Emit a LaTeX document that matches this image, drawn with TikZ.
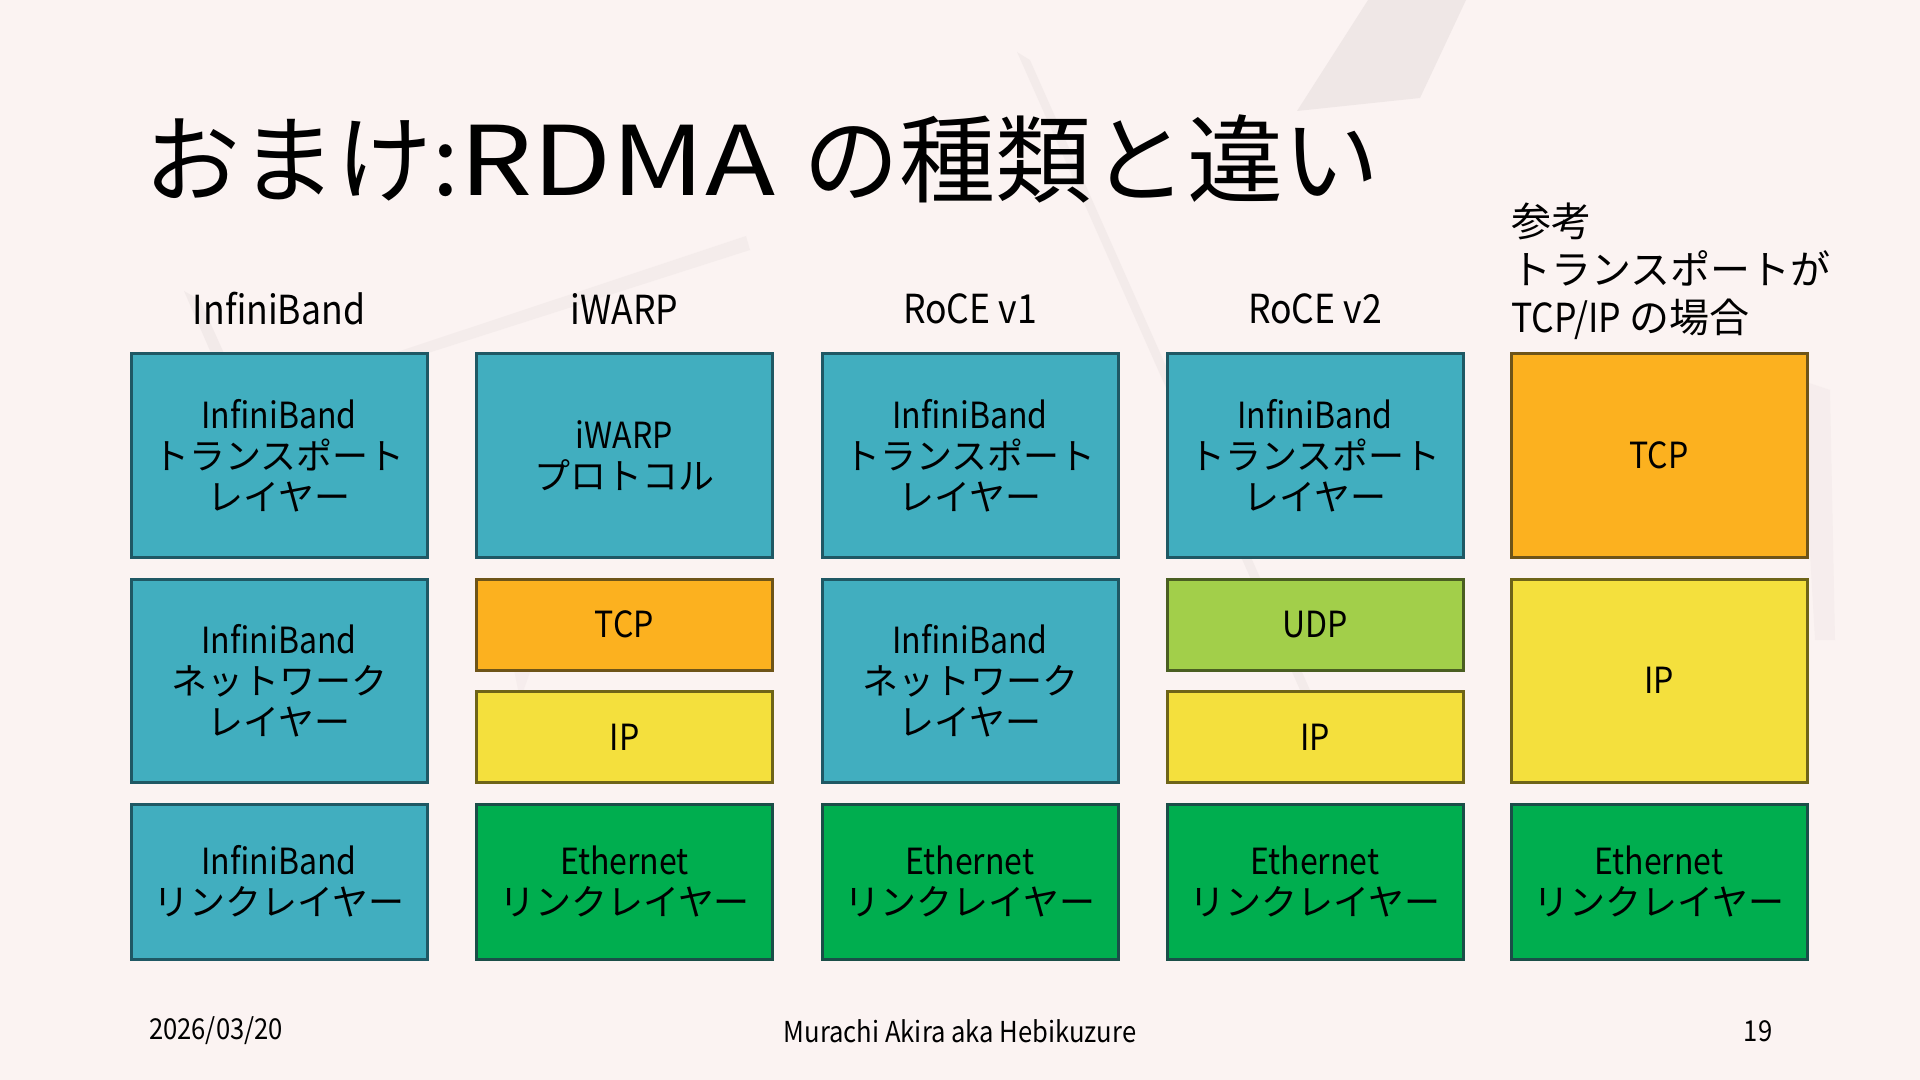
\documentclass[tikz,border=0pt]{standalone}
\usepackage{fontspec}
\setmainfont{Noto Sans CJK JP}
\newfontfamily\lat{Noto Sans CJK JP}[FakeStretch=0.89]
\newfontfamily\titlat{Noto Sans CJK JP}[FakeStretch=1.2]
\definecolor{bg}{HTML}{FBF3F2}
\definecolor{bgshape}{HTML}{EDE4E4}
\definecolor{tealF}{HTML}{41AEBF}
\definecolor{tealD}{HTML}{1F5864}
\definecolor{orF}{HTML}{FCB11F}
\definecolor{orD}{HTML}{6E5418}
\definecolor{yeF}{HTML}{F4E03D}
\definecolor{yeD}{HTML}{6E6418}
\definecolor{ugF}{HTML}{A2CF4A}
\definecolor{ugD}{HTML}{4A5E22}
\definecolor{grF}{HTML}{00AE4F}
\definecolor{grD}{HTML}{1A4E48}
\begin{document}
\begin{tikzpicture}[x=0.5pt,y=-0.5pt,
  layer/.style={draw, line width=1.5pt, minimum width=148pt, align=center,
    inner sep=0pt, text=black, font=\fontsize{18}{20.5}\selectfont},
  tealbox/.style={layer, fill=tealF, draw=tealD},
  orbox/.style={layer, fill=orF, draw=orD},
  yebox/.style={layer, fill=yeF, draw=yeD},
  ugbox/.style={layer, fill=ugF, draw=ugD},
  grbox/.style={layer, fill=grF, draw=grD},
  tall/.style={minimum height=101.5pt},
  half/.style={minimum height=45.5pt},
  low/.style={minimum height=77.5pt},
  head/.style={inner sep=0pt, text=black, font=\fontsize{20}{24}\selectfont},
  foot/.style={inner sep=0pt, text=black, font=\fontsize{14.4}{16}\selectfont\lat},
  faint/.style={fill=bgshape, draw=none}]
\fill[bg] (0,0) rectangle (1920,1080);
\useasboundingbox (0,0) rectangle (1920,1080);
% faint background shapes (faded photo)
\fill[faint, opacity=0.8] (1368,0) -- (1466,0) -- (1420,98) -- (1297,111) -- cycle;
\fill[faint, opacity=0.5] (1017,52) -- (1030,60) -- (1310,690) -- (1300,690) -- cycle;
\fill[faint, opacity=0.6] (184,291) -- (200,300) -- (290,500) -- (275,500) -- cycle;
\fill[faint, opacity=0.45] (373,360) -- (746,236) -- (750,250) -- (400,362) -- cycle;
\fill[faint, opacity=0.35] (1800,380) -- (1830,390) -- (1835,640) -- (1815,640) -- cycle;
\fill[faint, opacity=0.35] (500,600) -- (560,590) -- (520,700) -- cycle;

% title
\node[anchor=base west, inner sep=0pt, text=black, font=\fontsize{48}{56}\selectfont] (title) at (144,196) {おまけ:{\titlat RDMA}\hspace{14pt}の種類と違い};

% headers
\node[head] (h1) at (279,309) {\lat InfiniBand};
\node[head] (h2) at (624.5,309) {\lat iWARP};
\node[head] (h3) at (970,309) {\lat RoCE v1};
\node[head] (h4) at (1315,309) {\lat RoCE v2};
\node[head, anchor=north west, align=left] (h5) at (1511,203) {参考\\トランスポートが\\{\lat TCP/IP} の場合};

% column 1: InfiniBand
\node[tealbox, tall] (a1) at (279,455.5) {{\lat InfiniBand}\\トランスポート\\レイヤー};
\node[tealbox, tall] (a2) at (279,680.5) {{\lat InfiniBand}\\ネットワーク\\レイヤー};
\node[tealbox, low] (a3) at (279,881.5) {{\lat InfiniBand}\\リンクレイヤー};

% column 2: iWARP
\node[tealbox, tall] (b1) at (624.5,455.5) {{\lat iWARP}\\プロトコル};
\node[orbox, half] (b2) at (624.5,624.5) {\lat TCP};
\node[yebox, half] (b3) at (624.5,737) {\lat IP};
\node[grbox, low] (b4) at (624.5,881.5) {{\lat Ethernet}\\リンクレイヤー};

% column 3: RoCE v1
\node[tealbox, tall] (c1) at (970,455.5) {{\lat InfiniBand}\\トランスポート\\レイヤー};
\node[tealbox, tall] (c2) at (970,680.5) {{\lat InfiniBand}\\ネットワーク\\レイヤー};
\node[grbox, low] (c3) at (970,881.5) {{\lat Ethernet}\\リンクレイヤー};

% column 4: RoCE v2
\node[tealbox, tall] (d1) at (1315,455.5) {{\lat InfiniBand}\\トランスポート\\レイヤー};
\node[ugbox, half] (d2) at (1315,624.5) {\lat UDP};
\node[yebox, half] (d3) at (1315,737) {\lat IP};
\node[grbox, low] (d4) at (1315,881.5) {{\lat Ethernet}\\リンクレイヤー};

% column 5: TCP/IP
\node[orbox, tall] (e1) at (1659,455.5) {\lat TCP};
\node[yebox, tall] (e2) at (1659,680.5) {\lat IP};
\node[grbox, low] (e3) at (1659,881.5) {{\lat Ethernet}\\リンクレイヤー};

% footer
\node[foot] (date) at (216,1031) {2026/03/20};
\node[foot] (author) at (960,1031) {Murachi Akira aka Hebikuzure};
\node[foot] (page) at (1758,1031) {19};
\end{tikzpicture}
\end{document}
